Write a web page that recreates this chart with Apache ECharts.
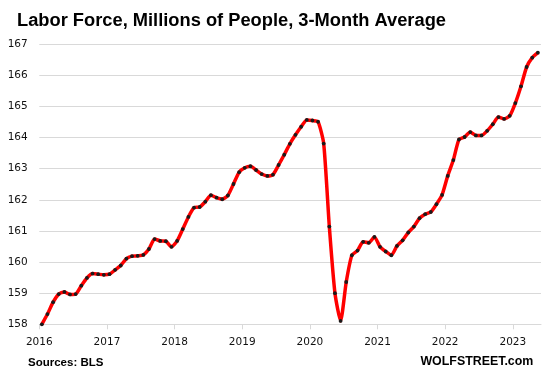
<!DOCTYPE html>
<html>
<head>
<meta charset="utf-8">
<script src="https://cdn.jsdelivr.net/npm/echarts@6/dist/echarts.min.js"></script>
<style>
html, body { margin: 0; padding: 0; background: #ffffff; }
#chart { width: 543px; height: 380px; }
</style>
</head>
<body>
<div id="chart"></div>
<script>
// ---- Data ----
const chartTitle = 'Labor Force, Millions of People, 3-Month Average';
const sourceText = 'Sources: BLS';
const brandText = 'WOLFSTREET.com';
const startYear = 2016;
const yearTicks = ['2016', '2017', '2018', '2019', '2020', '2021', '2022', '2023'];
const yTicks = [158, 159, 160, 161, 162, 163, 164, 165, 166, 167];

// Monthly values, Jan 2016 .. May 2023 (millions)
const laborForce2016 = [158.00, 158.33, 158.71, 158.97, 159.04, 158.96, 158.97, 159.24, 159.49, 159.63, 159.61, 159.59];
const laborForce2017 = [159.61, 159.75, 159.89, 160.11, 160.19, 160.20, 160.23, 160.42, 160.74, 160.68, 160.67, 160.49];
const laborForce2018 = [160.68, 161.06, 161.45, 161.75, 161.77, 161.94, 162.15, 162.07, 162.02, 162.14, 162.51, 162.89];
const laborForce2019 = [163.03, 163.08, 162.96, 162.83, 162.77, 162.81, 163.12, 163.45, 163.80, 164.09, 164.35, 164.57];
const laborForce2020 = [164.55, 164.51, 163.81, 161.14, 159.00, 158.11, 159.36, 160.22, 160.37, 160.65, 160.62, 160.81];
const laborForce2021 = [160.49, 160.34, 160.22, 160.52, 160.70, 160.95, 161.14, 161.41, 161.54, 161.61, 161.86, 162.16];
const laborForce2022 = [162.77, 163.28, 163.94, 164.02, 164.18, 164.07, 164.07, 164.22, 164.43, 164.66, 164.60, 164.70];
const laborForce2023 = [165.11, 165.65, 166.27, 166.57, 166.73];

const laborForce = [].concat(laborForce2016, laborForce2017, laborForce2018, laborForce2019,
  laborForce2020, laborForce2021, laborForce2022, laborForce2023);

// month categories
const months = laborForce.map(function (v, i) {
  const y = startYear + Math.floor(i / 12);
  const m = (i % 12) + 1;
  return y + '-' + (m < 10 ? '0' + m : m);
});

// ---- Chart ----
const chart = echarts.init(document.getElementById('chart'), null, { renderer: 'canvas' });

const monthOffset = 0.45; // points sit mid-month on a monthly date axis
const seriesData = laborForce.map(function (v, i) { return [i + monthOffset, v, months[i]]; });
const yearTickValues = yearTicks.map(function (t, i) { return i * 12; });

const gridColor = '#d9d9d9';
const labelFont = 'DejaVu Sans';

chart.setOption({
  animation: false,
  backgroundColor: '#ffffff',
  title: {
    text: chartTitle,
    left: 17,
    top: 11.5,
    padding: 0,
    textStyle: {
      fontFamily: 'Liberation Sans',
      fontWeight: 'bold',
      fontSize: 18.3,
      color: '#000000'
    }
  },
  grid: {
    left: 39.3,
    right: 2,
    top: 44.3,
    bottom: 55.7,
    containLabel: false
  },
  xAxis: {
    type: 'value',
    min: 0,
    max: 89,
    interval: 12,
    axisLine: { show: true, onZero: false, lineStyle: { color: gridColor, width: 1 } },
    axisTick: {
      show: true,
      length: 5,
      customValues: yearTickValues,
      lineStyle: { color: gridColor, width: 1 }
    },
    axisLabel: {
      customValues: yearTickValues,
      margin: 12,
      fontFamily: labelFont,
      fontSize: 10.5,
      color: '#111111',
      formatter: function (v) { return yearTicks[Math.round(v / 12)] || ''; }
    },
    splitLine: { show: false }
  },
  yAxis: {
    type: 'value',
    min: yTicks[0],
    max: yTicks[yTicks.length - 1],
    interval: 1,
    axisLine: { show: false },
    axisTick: { show: false },
    axisLabel: {
      margin: 11.6,
      fontFamily: labelFont,
      fontSize: 10.5,
      color: '#111111'
    },
    splitLine: { show: true, lineStyle: { color: gridColor, width: 1 } }
  },
  series: [{
    type: 'line',
    name: 'Labor Force',
    data: seriesData,
    smooth: 0.2,
    showSymbol: true,
    showAllSymbol: true,
    symbol: 'circle',
    symbolSize: 3.8,
    itemStyle: { color: '#1a1a1a' },
    lineStyle: { color: '#ff0000', width: 3.5 },
    emphasis: { disabled: true },
    clip: true
  }],
  graphic: [
    {
      type: 'text',
      left: 28,
      top: 357,
      style: {
        text: sourceText,
        font: 'bold 11.5px "Liberation Sans", sans-serif',
        fill: '#000000'
      }
    },
    {
      type: 'text',
      right: 9.7,
      top: 356,
      style: {
        text: brandText,
        font: 'bold 12.4px "Liberation Sans", sans-serif',
        fill: '#000000'
      }
    }
  ]
});
</script>
</body>
</html>
